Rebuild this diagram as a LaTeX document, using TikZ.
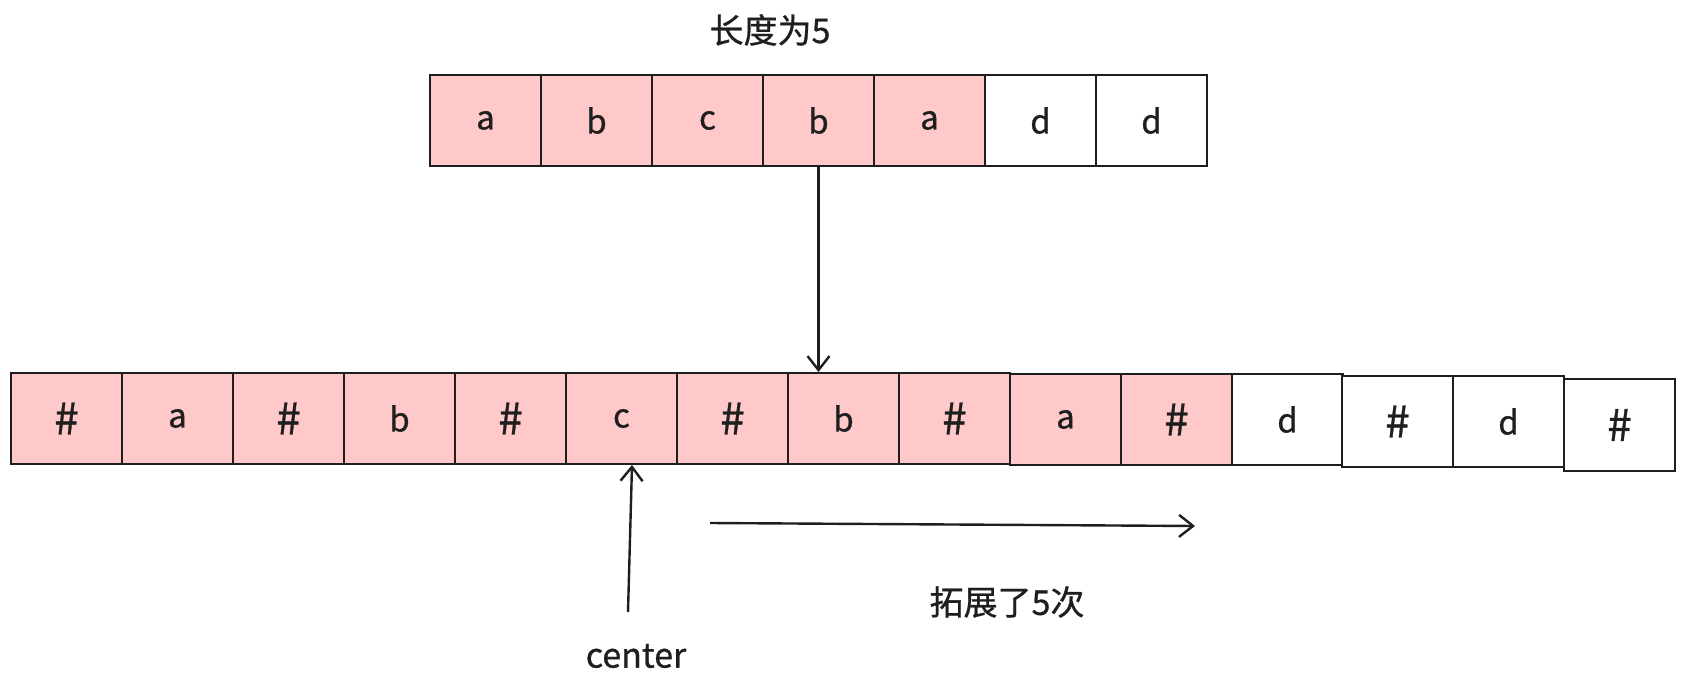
\documentclass[tikz,border=0pt]{standalone}
\usepackage{fontspec}
\setmainfont{Noto Sans CJK SC}[FakeBold=0.8]
\usetikzlibrary{arrows.meta}
\definecolor{ink}{HTML}{1E1E1E}
\definecolor{pinkfill}{HTML}{FFC9C9}
\newcommand\hashsym{{\fontsize{44}{44}\selectfont\#}}
\tikzset{
  cell/.style={draw=ink, line width=2pt, minimum width=111pt, minimum height=91pt, inner sep=0pt, anchor=north west, text=ink, font=\fontsize{33}{38}\selectfont},
  hl/.style={cell, fill=pinkfill},
  plain/.style={cell, fill=white},
  arr/.style={draw=ink, line width=2.4pt, -{Straight Barb[length=14pt,width=22pt,line width=2.4pt]}},
  lbl/.style={text=ink, font=\fontsize{34}{38}\selectfont, inner sep=0pt}
}
\begin{document}
\begin{tikzpicture}[x=1pt,y=-1pt]
\useasboundingbox (0,0) rectangle (1683,690);
% title
\node[lbl] (title) at (770,30) {长度为5};
% top row
\node[hl] (t1) at (429,74) {a};
\node[hl] (t2) at (540,74) {b};
\node[hl] (t3) at (651,74) {c};
\node[hl] (t4) at (762,74) {b};
\node[hl] (t5) at (873,74) {a};
\node[plain] (t6) at (984,74) {d};
\node[plain] (t7) at (1095,74) {d};
% bottom row
\node[hl] (b1) at (10,372) {\hashsym};
\node[hl] (b2) at (121,372) {a};
\node[hl] (b3) at (232,372) {\hashsym};
\node[hl] (b4) at (343,372) {b};
\node[hl] (b5) at (454,372) {\hashsym};
\node[hl] (b6) at (565,372) {c};
\node[hl] (b7) at (676,372) {\hashsym};
\node[hl] (b8) at (787,372) {b};
\node[hl] (b9) at (898,372) {\hashsym};
\node[hl] (b10) at (1009,373) {a};
\node[hl] (b11) at (1120,373) {\hashsym};
\node[plain] (b12) at (1231,373) {d};
\node[plain] (b13) at (1341,375) {\hashsym};
\node[plain] (b14) at (1452,375) {d};
\node[plain, minimum height=92pt] (b15) at (1563,378) {\hashsym};
% arrows
\draw[arr] (t4.south) -- (t4.south |- b8.north);
\node[lbl] (cen) at (636,656) {center};
\coordinate (cs) at (628,612);
\draw[arr] (cs) -- ([xshift=4pt]cs |- b6.south) coordinate (ce);
\coordinate (hs) at (710,523);
\coordinate (he) at (1195,526);
\draw[arr] (hs) -- (he);
\node[lbl] (ext) at (1007,602) {拓展了5次};
\end{tikzpicture}
\end{document}
